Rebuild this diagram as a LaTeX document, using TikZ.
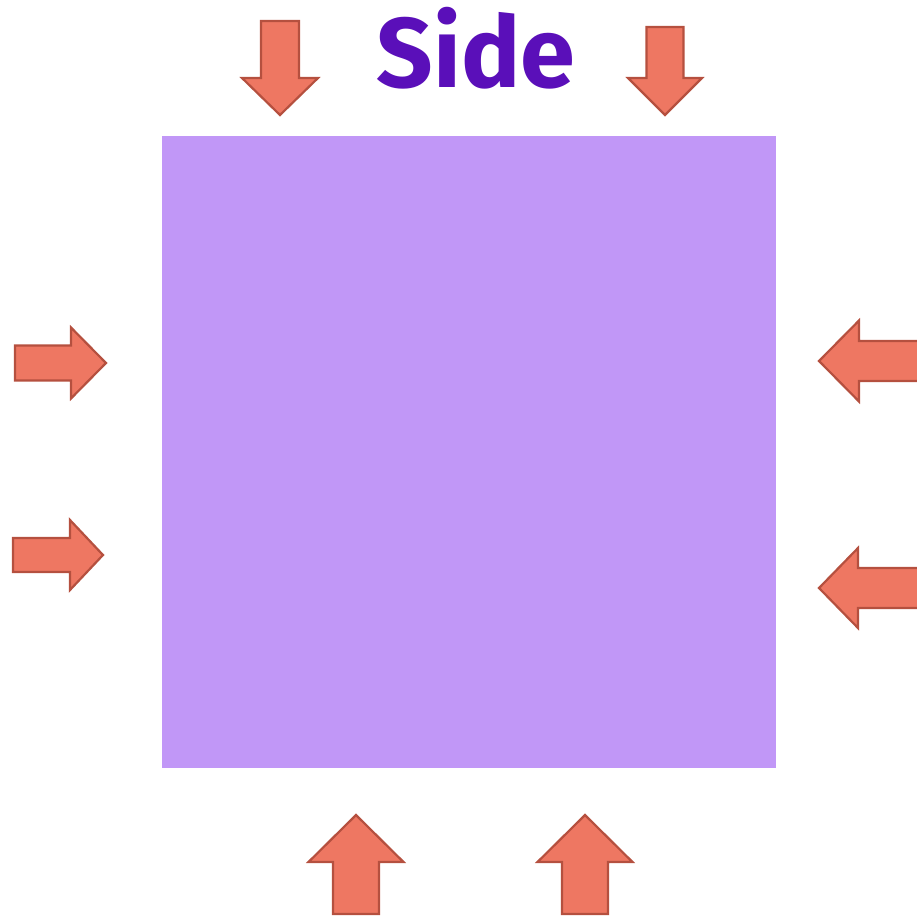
\documentclass[tikz,border=0pt]{standalone}
\usepackage{fontspec}
\setmainfont{Fira Sans}
\usetikzlibrary{positioning}

\definecolor{facefill}{HTML}{C197F7}
\definecolor{titleink}{HTML}{5A0FB9}
\definecolor{arrowfill}{HTML}{EE7762}
\definecolor{arrowedge}{HTML}{B5503F}

% block arrow: tip, direction, length, shaft width, head width, head length
\newcommand{\pusharrow}[6]{%
  \begin{scope}[shift={#1}, rotate=#2]
    \draw[pusher] (0,0) -- (-#6,#5/2) -- (-#6,#4/2) -- (-#3,#4/2)
      -- (-#3,-#4/2) -- (-#6,-#4/2) -- (-#6,-#5/2) -- cycle;
  \end{scope}}

\begin{document}
\begin{tikzpicture}[
  x=1pt, y=1pt,
  face/.style={fill=facefill, draw=none},
  pusher/.style={fill=arrowfill, draw=arrowedge, line width=2.2pt, line join=miter},
  heading/.style={text=titleink, font=\fontsize{99}{99}\selectfont\bfseries, inner sep=0pt}
]
\useasboundingbox (0,0) rectangle (917,-918);
\fill[face] (162,-136) rectangle (776,-768);
\node[heading, anchor=base] (title) at (476,-87) {Side};
% top
\pusharrow{(280,-115)}{-90}{94}{38}{76}{37}
\pusharrow{(665,-115)}{-90}{88}{37}{74}{37}
% left
\pusharrow{(106,-363)}{0}{91}{35}{71}{35}
\pusharrow{(103,-555)}{0}{90}{34}{70}{33}
% right
\pusharrow{(819,-361)}{180}{110}{40}{81}{40}
\pusharrow{(819,-588)}{180}{110}{40}{80}{39}
% bottom
\pusharrow{(356,-815)}{90}{99}{46}{95}{47}
\pusharrow{(585,-815)}{90}{99}{46}{95}{47}
\end{tikzpicture}
\end{document}
